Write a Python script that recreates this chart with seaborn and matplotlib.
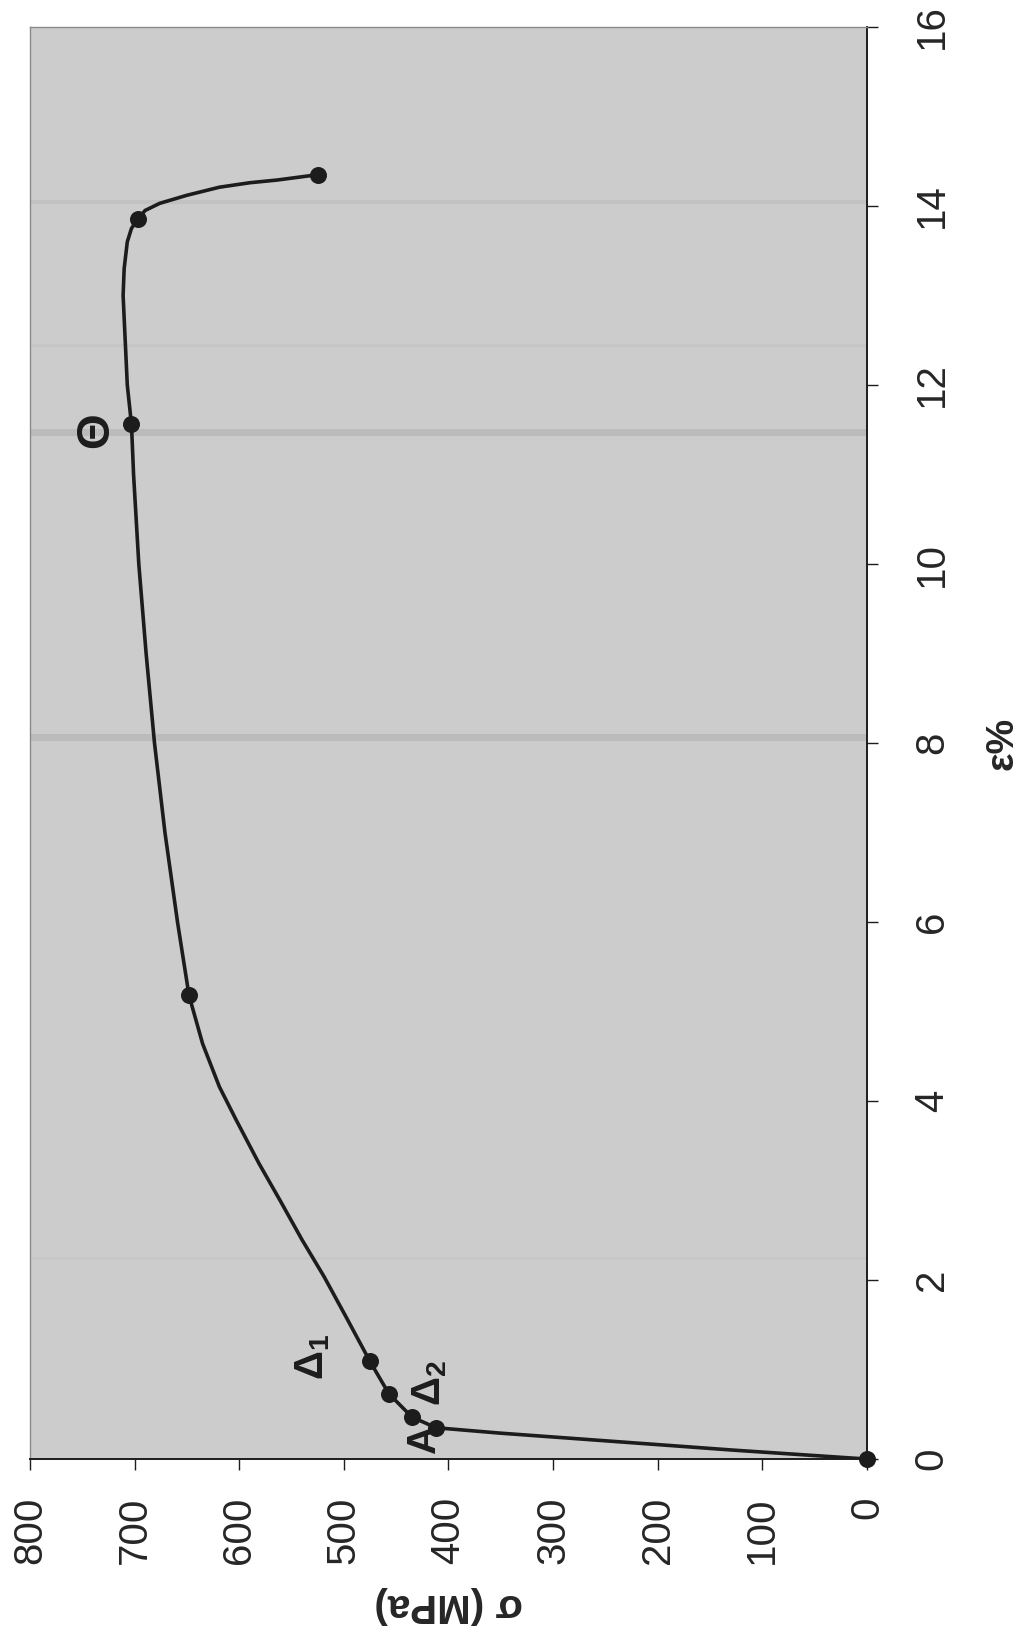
import matplotlib
matplotlib.use("Agg")
import matplotlib.pyplot as plt
import seaborn as sns
import pandas as pd

# Stress-strain curve of the tensile test (stress in MPa, strain in %)
curve_stress = [0, 128, 351, 412, 435, 457, 475, 498, 519, 540, 561, 581, 603,
                619, 635, 648, 659, 671, 681, 689, 696, 701, 703, 707, 709, 711,
                710, 707, 703, 697, 690, 676, 650, 619, 590, 564, 525]
curve_strain = [0.0, 0.10, 0.29, 0.35, 0.47, 0.73, 1.09, 1.59, 2.04, 2.45, 2.89, 3.30, 3.79,
                4.16, 4.64, 5.18, 6.0, 7.0, 8.0, 9.0, 10.0, 11.0, 11.56, 12.0, 12.5, 13.0,
                13.3, 13.6, 13.75, 13.85, 13.95, 14.03, 14.12, 14.21, 14.26, 14.29, 14.35]

# Measured points shown with markers
point_stress = [0, 412, 435, 457, 475, 648, 703, 697, 525]
point_strain = [0.0, 0.35, 0.47, 0.73, 1.09, 5.18, 11.56, 13.85, 14.35]

# Point labels: text, stress, strain, size
label_text = ["Δ$_\\mathbf{1}$", "Δ$_\\mathbf{2}$", "A", "Θ"]
label_stress = [530, 418, 423, 737]
label_strain = [1.14, 0.85, 0.23, 11.5]
label_size = [29, 29, 29, 33]

stress_ticks = [0, 100, 200, 300, 400, 500, 600, 700, 800]
strain_ticks = [0, 2, 4, 6, 8, 10, 12, 14, 16]

# Faint horizontal streaks across the plotting area (strain level, width, alpha)
streak_strain = [14.05, 12.45, 11.47, 8.07, 2.25]
streak_width = [3, 2, 5, 5, 2]
streak_alpha = [0.10, 0.07, 0.18, 0.18, 0.06]

sns.set_theme(style="white")
plt.rcParams["font.family"] = ["Liberation Sans", "DejaVu Sans"]
plt.rcParams["mathtext.fontset"] = "custom"
plt.rcParams["mathtext.rm"] = "Liberation Sans:bold"
plt.rcParams["mathtext.bf"] = "Liberation Sans:bold"

curve = pd.DataFrame({"stress": curve_stress, "strain": curve_strain})
points = pd.DataFrame({"stress": point_stress, "strain": point_strain})

fig = plt.figure(figsize=(10.27, 16.37), dpi=100)
ax = fig.add_axes([0.0292, 0.1087, 0.815, 0.8748])
ax.set_facecolor("#cccccc")

for s, w, a in zip(streak_strain, streak_width, streak_alpha):
    ax.axhline(s, color="#707070", linewidth=w, alpha=a, zorder=0.5)

ink = "#1c1c1c"
sns.lineplot(data=curve, x="stress", y="strain", sort=False, estimator=None,
             color=ink, linewidth=2.6, ax=ax)
sns.scatterplot(data=points, x="stress", y="strain", color=ink, s=150,
                edgecolor=ink, linewidth=0, zorder=5, clip_on=False, ax=ax)

for txt, sx, ey, fs in zip(label_text, label_stress, label_strain, label_size):
    ax.text(sx, ey, txt, rotation=90, ha="center", va="center",
            fontsize=fs, fontweight="bold", color=ink)

ax.set_xlim(800, 0)
ax.set_ylim(0, 16)
ax.set_xticks(stress_ticks)
ax.set_xticklabels([str(v) for v in stress_ticks], rotation=90)
ax.set_yticks(strain_ticks)
ax.set_yticklabels([str(v) for v in strain_ticks], rotation=90, va="center")

ax.yaxis.tick_right()
ax.yaxis.set_label_position("right")
ax.tick_params(axis="x", direction="out", length=8, width=1, color=ink,
               labelsize=29, pad=19, bottom=True)
ax.tick_params(axis="y", direction="out", length=8, width=1, color=ink,
               labelsize=29, pad=25, right=True, left=False)

ax.set_xlabel("σ (MPa)", fontsize=29, fontweight="bold", rotation=180, labelpad=16)
ax.set_ylabel("ε%", fontsize=28, fontweight="bold", labelpad=24)

for side in ["bottom", "right"]:
    ax.spines[side].set_color(ink)
    ax.spines[side].set_linewidth(1.4)
for side in ["top", "left"]:
    ax.spines[side].set_color("#8a8a8a")
    ax.spines[side].set_linewidth(1.0)

fig.savefig("out.png", dpi=100, facecolor="white")
